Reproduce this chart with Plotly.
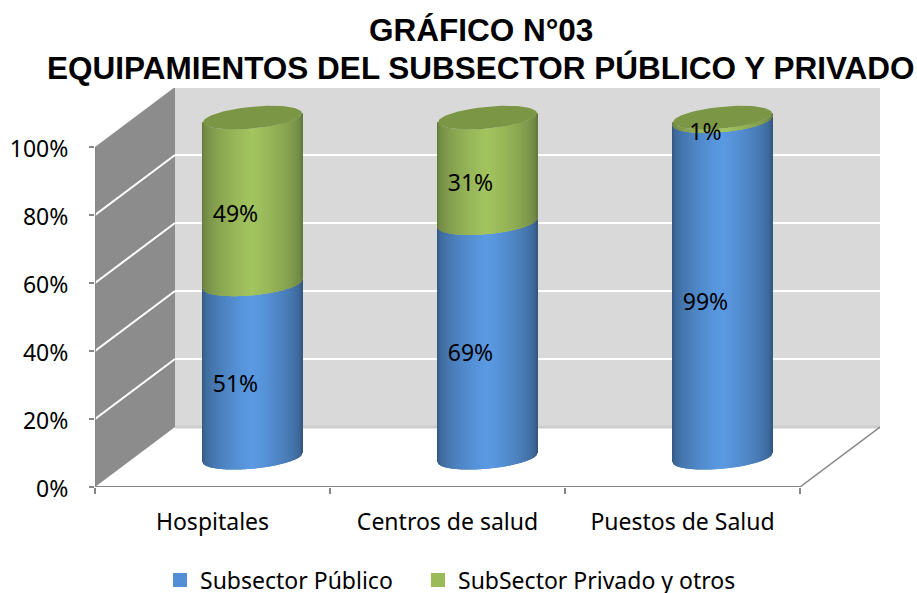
import numpy as np
import plotly.graph_objects as go

categories = ['Hospitales', 'Centros de salud', 'Puestos de Salud']
publico = [51, 69, 99]
privado = [49, 31, 1]
y_ticks = [0, 20, 40, 60, 80, 100]
y_labels = ['0%', '20%', '40%', '60%', '80%', '100%']
title_lines = ['GRÁFICO N°03', 'EQUIPAMIENTOS DEL SUBSECTOR PÚBLICO Y PRIVADO']

FONT = 'Noto Sans'

# pixels per data unit, the chart is a faked 3d box
PX_X = 235.0
PX_Y = 3.4
DEPTH_X = 80 / PX_X
DEPTH_Y = 60 / PX_Y


def shade(u, edge, mid):
    # horizontal light falloff across the cylinder, u goes from -1 to 1
    t = (1 - abs(u)) ** 0.5
    c = [edge[i] + (mid[i] - edge[i]) * t for i in range(3)]
    return 'rgb(%d,%d,%d)' % tuple(c)


def cylinder_strips(values, bases, edge, mid):
    # one thin bar per pixel so that the gradient and curved edges come out
    xs, ys, starts, colors = [], [], [], []
    for i in range(len(values)):
        center = i + 0.5 + DEPTH_X / 2
        for u in np.linspace(-1, 1, 100):
            xs.append(center + u * 49.5 / PX_X)
            ys.append(values[i])
            curve = (4.5 * u - 11 * np.sqrt(1 - u ** 2)) / PX_Y
            starts.append(bases[i] + DEPTH_Y / 2 - 0.2 + curve)
            colors.append(shade(u, edge, mid))
    return go.Bar(x=xs, y=ys, base=starts, width=1.6 / PX_X,
                  marker=dict(color=colors, line=dict(width=0)),
                  showlegend=False, hoverinfo='skip')


def wall_shape(points, color):
    path = 'M ' + ' L '.join('%f %f' % p for p in points) + ' Z'
    return dict(type='path', path=path, fillcolor=color, line=dict(width=0), layer='below')


def line_shape(x0, y0, x1, y1, color, width):
    return dict(type='line', x0=x0, y0=y0, x1=x1, y1=y1,
                line=dict(color=color, width=width), layer='below')


fig = go.Figure()

fig.add_trace(cylinder_strips(publico, [0, 0, 0], (52, 88, 130), (91, 155, 228)))
fig.add_trace(cylinder_strips(privado, publico, (100, 122, 62), (163, 197, 95)))

# top caps
theta = np.linspace(0, 2 * np.pi, 80)
cap_x, cap_y = [], []
for i in range(len(categories)):
    center = i + 0.5 + DEPTH_X / 2
    top = publico[i] + privado[i] + DEPTH_Y / 2 - 0.2
    cap_x += list(center + np.cos(theta) * 49.5 / PX_X) + [None]
    cap_y += list(top + (4.5 * np.cos(theta) + 11 * np.sin(theta)) / PX_Y) + [None]
fig.add_trace(go.Scatter(x=cap_x, y=cap_y, mode='lines', fill='toself', fillcolor='#7B9645',
                         line=dict(width=0), showlegend=False, hoverinfo='skip'))

# data labels
label_x, label_y, label_text = [], [], []
for i in range(len(categories)):
    label_x += [i + 0.5 + 23 / PX_X] * 2
    label_y += [publico[i] / 2 + 14 / PX_Y, publico[i] + privado[i] / 2 + 14 / PX_Y]
    label_text += ['%d%%' % publico[i], '%d%%' % privado[i]]
fig.add_trace(go.Scatter(x=label_x, y=label_y, text=label_text, mode='text',
                         textfont=dict(family=FONT, size=23, color='black'),
                         showlegend=False, hoverinfo='skip'))

# legend only entries, each in its own legend to get the same gap as the original
fig.add_trace(go.Scatter(x=[None], y=[None], mode='markers', name='Subsector Público', legend='legend',
                         marker=dict(symbol='square', size=14, color='#558ED5')))
fig.add_trace(go.Scatter(x=[None], y=[None], mode='markers', name='SubSector Privado y otros', legend='legend2',
                         marker=dict(symbol='square', size=14, color='#9BBB59')))

n = len(categories)
shapes = [
    wall_shape([(0, 0), (DEPTH_X, DEPTH_Y), (DEPTH_X, 100 + DEPTH_Y), (0, 100)], '#8C8C8C'),
    wall_shape([(DEPTH_X, DEPTH_Y), (n + DEPTH_X, DEPTH_Y), (n + DEPTH_X, 100 + DEPTH_Y), (DEPTH_X, 100 + DEPTH_Y)], '#D9D9D9'),
]
for t in y_ticks[1:-1]:
    shapes.append(line_shape(DEPTH_X, t + DEPTH_Y, n + DEPTH_X, t + DEPTH_Y, 'white', 2))
    shapes.append(line_shape(0, t, DEPTH_X, t + DEPTH_Y, 'white', 2))
shapes.append(line_shape(DEPTH_X, DEPTH_Y, n + DEPTH_X, DEPTH_Y, '#CDCDCD', 3))
shapes.append(line_shape(0, 0, n, 0, '#868686', 2))
shapes.append(line_shape(0, 0, 0, 100, '#868686', 1.5))
shapes.append(line_shape(n, 0, n + DEPTH_X, DEPTH_Y, '#868686', 1.5))

title_annotations = [
    dict(text='<b>%s</b>' % title_lines[0], xref='paper', yref='paper', x=386 / 785, y=457 / 399,
         xanchor='center', yanchor='middle', showarrow=False,
         font=dict(family='Liberation Sans', size=31.5, color='black')),
    dict(text='<b>%s</b>' % title_lines[1], xref='paper', yref='paper', x=386 / 785, y=419 / 399,
         xanchor='center', yanchor='middle', showarrow=False,
         font=dict(family='Liberation Sans', size=31.5, color='black')),
]


def legend_at(x_px):
    return dict(orientation='h', x=x_px / 785, xanchor='left', y=-93 / 399, yanchor='middle',
                font=dict(family=FONT, size=23, color='black'),
                bgcolor='rgba(0,0,0,0)')


fig.update_layout(
    width=917,
    height=593,
    autosize=False,
    margin=dict(l=95, r=37, t=88, b=106, autoexpand=False),
    paper_bgcolor='white',
    plot_bgcolor='white',
    barmode='overlay',
    shapes=shapes,
    annotations=title_annotations,
    legend=legend_at(65),
    legend2=legend_at(323),
    xaxis=dict(
        range=[0, n + DEPTH_X],
        tickmode='array',
        tickvals=[i + 0.5 for i in range(n)],
        ticktext=categories,
        ticks='',
        showgrid=False,
        zeroline=False,
        automargin=False,
        tickfont=dict(family=FONT, size=23, color='black'),
        minor=dict(tickvals=list(range(n + 1)), ticks='outside', ticklen=6,
                   tickcolor='#868686', tickwidth=1.5, showgrid=False),
        ticklabelstandoff=19,
    ),
    yaxis=dict(
        range=[0, 399 / PX_Y],
        tickmode='array',
        tickvals=y_ticks,
        ticktext=y_labels,
        ticks='outside',
        ticklen=5,
        tickcolor='#868686',
        tickwidth=1.5,
        showgrid=False,
        zeroline=False,
        automargin=False,
        tickfont=dict(family=FONT, size=23, color='black'),
        ticklabelstandoff=16,
        ticklabelshift=2,
    ),
)

# drop the default 8px body margin so that the figure fills the window
fig.write_html("out.html", config=dict(displayModeBar=False),
               post_script="document.body.style.margin='0';")
